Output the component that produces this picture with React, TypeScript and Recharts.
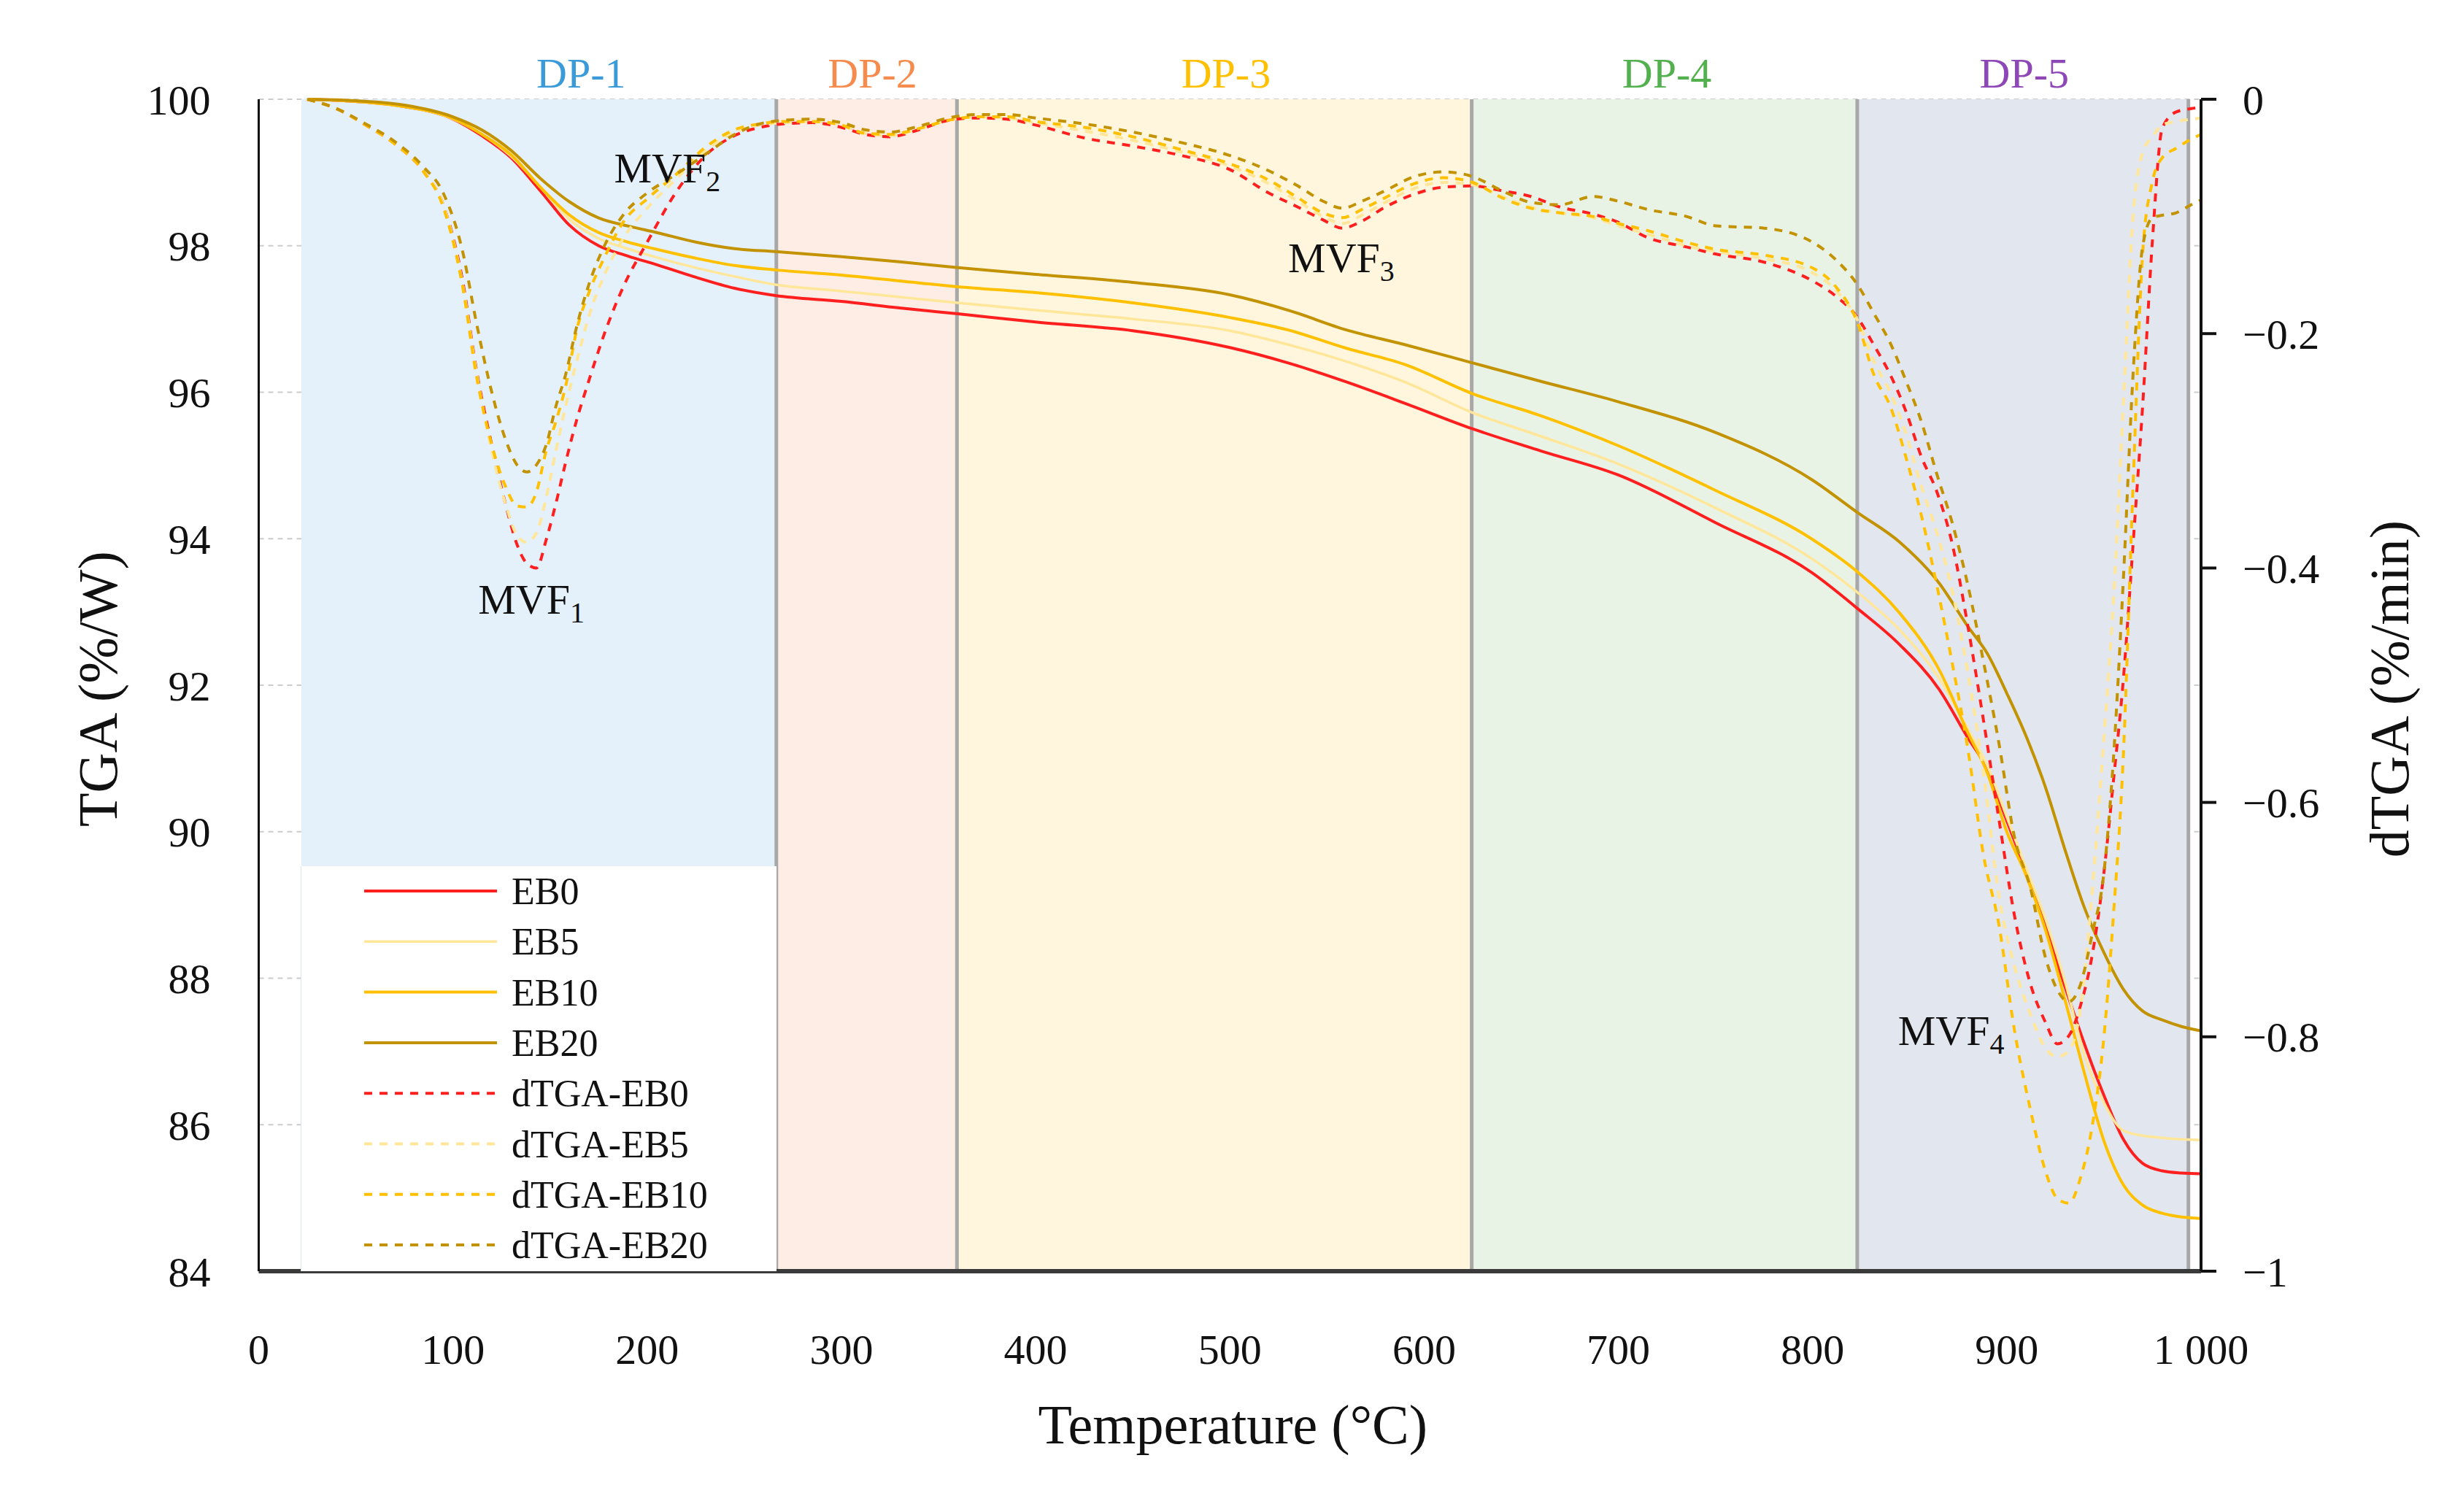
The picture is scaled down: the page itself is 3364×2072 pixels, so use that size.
import React from "react";
import {
  CartesianGrid,
  ComposedChart,
  Legend,
  Line,
  ReferenceArea,
  ReferenceDot,
  ReferenceLine,
  XAxis,
  YAxis,
} from "recharts";

const FONT = "'Liberation Serif', 'Times New Roman', serif";

// temperature grid for the TGA curves (°C)
const tgaTemps = [
  25, 50, 75, 100, 115, 130, 145, 160, 175, 190, 205, 225, 245, 266, 300, 330, 360, 400, 450, 500, 530, 560,
  590, 625, 660, 700, 750, 800, 823, 845, 865, 880, 890, 900, 910, 920, 930, 940, 950, 960, 970, 980, 990, 1000,
];

const tgaEB0 = [
  100, 99.97, 99.9, 99.73, 99.5, 99.2, 98.75, 98.28, 98.0, 97.86, 97.74, 97.57, 97.42, 97.32, 97.24, 97.15,
  97.07, 96.96, 96.84, 96.61, 96.4, 96.14, 95.85, 95.5, 95.2, 94.87, 94.22, 93.53, 93.05, 92.55, 91.95, 91.28,
  90.85, 90.15, 89.45, 88.7, 87.88, 87.1, 86.4, 85.8, 85.47, 85.37, 85.34, 85.33,
];
const tgaEB5 = [
  100, 99.97, 99.9, 99.73, 99.52, 99.22, 98.8, 98.36, 98.1, 97.96, 97.84, 97.7, 97.58, 97.47, 97.38, 97.3,
  97.22, 97.12, 97.0, 96.84, 96.65, 96.42, 96.14, 95.72, 95.4, 95.02, 94.42, 93.72, 93.27, 92.75, 92.1, 91.4,
  90.9, 90.2, 89.5, 88.8, 87.95, 86.95, 86.3, 85.92, 85.85, 85.82, 85.8, 85.79,
];
const tgaEB10 = [
  100, 99.97, 99.9, 99.74, 99.52, 99.24, 98.8, 98.42, 98.18, 98.05, 97.95, 97.83, 97.73, 97.67, 97.6, 97.52,
  97.44, 97.36, 97.22, 97.02, 96.85, 96.6, 96.38, 95.98, 95.68, 95.27, 94.66, 93.99, 93.55, 92.98, 92.22, 91.35,
  90.8, 90.0, 89.4, 88.65, 87.7, 86.7, 85.78, 85.18, 84.9, 84.79, 84.74, 84.72,
];
const tgaEB20 = [
  100, 99.98, 99.92, 99.76, 99.58, 99.3, 98.92, 98.6, 98.38, 98.27, 98.18, 98.05, 97.96, 97.92, 97.85, 97.78,
  97.7, 97.61, 97.5, 97.33, 97.12, 96.85, 96.65, 96.4, 96.15, 95.87, 95.45, 94.8, 94.36, 93.95, 93.4, 92.8,
  92.43, 91.89, 91.3, 90.6, 89.75, 88.96, 88.35, 87.85, 87.55, 87.43, 87.34, 87.28,
];

// temperature grid for the derivative curves (°C)
const dtgaTemps = [
  25, 40, 55, 70, 85, 95, 105, 112, 120, 127, 133, 138, 143, 148, 153, 158, 164, 170, 178, 188, 200, 215, 230,
  245, 258, 270, 285, 300, 312, 325, 340, 355, 370, 385, 400, 425, 450, 475, 500, 520, 535, 548, 558, 568, 580,
  595, 610, 625, 640, 655, 670, 687, 700, 715, 735, 750, 775, 800, 812, 823, 832, 840, 848, 856, 864, 872, 880,
  888, 896, 904, 912, 920, 926, 932, 938, 944, 950, 955, 960, 965, 970, 975, 980, 987, 995, 1000,
];

const dtgaEB0 = [
  0, -0.008, -0.022, -0.038, -0.062, -0.09, -0.155, -0.23, -0.295, -0.345, -0.38, -0.396, -0.4, -0.376, -0.345,
  -0.31, -0.272, -0.24, -0.2, -0.159, -0.122, -0.079, -0.048, -0.031, -0.024, -0.021, -0.02, -0.024, -0.03,
  -0.032, -0.026, -0.018, -0.016, -0.017, -0.022, -0.033, -0.04, -0.048, -0.06, -0.08, -0.092, -0.103, -0.11,
  -0.104, -0.092, -0.081, -0.075, -0.074, -0.078, -0.083, -0.092, -0.098, -0.105, -0.118, -0.126, -0.132,
  -0.139, -0.155, -0.168, -0.186, -0.211, -0.235, -0.266, -0.305, -0.335, -0.38, -0.45, -0.53, -0.615, -0.697,
  -0.754, -0.788, -0.806, -0.799, -0.773, -0.73, -0.66, -0.58, -0.495, -0.38, -0.26, -0.12, -0.025, -0.011,
  -0.008, -0.007,
];
const dtgaEB5 = [
  0, -0.008, -0.022, -0.038, -0.062, -0.09, -0.158, -0.232, -0.3, -0.345, -0.372, -0.378, -0.37, -0.34, -0.3,
  -0.262, -0.222, -0.185, -0.15, -0.118, -0.093, -0.068, -0.044, -0.028, -0.022, -0.02, -0.019, -0.022, -0.029,
  -0.031, -0.025, -0.018, -0.015, -0.016, -0.02, -0.027, -0.035, -0.045, -0.057, -0.072, -0.087, -0.1, -0.106,
  -0.099, -0.088, -0.076, -0.071, -0.073, -0.083, -0.092, -0.097, -0.101, -0.108, -0.115, -0.125, -0.13,
  -0.136, -0.148, -0.163, -0.188, -0.225, -0.25, -0.285, -0.33, -0.37, -0.42, -0.49, -0.575, -0.68, -0.74,
  -0.78, -0.81, -0.817, -0.812, -0.775, -0.675, -0.545, -0.425, -0.26, -0.1, -0.045, -0.032, -0.022, -0.019,
  -0.017, -0.016,
];
const dtgaEB10 = [
  0, -0.008, -0.022, -0.038, -0.062, -0.092, -0.16, -0.235, -0.295, -0.33, -0.347, -0.348, -0.335, -0.3, -0.275,
  -0.245, -0.195, -0.165, -0.135, -0.104, -0.085, -0.064, -0.041, -0.026, -0.021, -0.019, -0.019, -0.022,
  -0.029, -0.03, -0.025, -0.018, -0.015, -0.015, -0.019, -0.024, -0.032, -0.043, -0.055, -0.069, -0.084,
  -0.097, -0.101, -0.094, -0.084, -0.072, -0.067, -0.071, -0.084, -0.093, -0.097, -0.1, -0.106, -0.112, -0.122,
  -0.128, -0.133, -0.144, -0.16, -0.19, -0.237, -0.262, -0.305, -0.355, -0.415, -0.482, -0.555, -0.645, -0.705,
  -0.795, -0.861, -0.915, -0.938, -0.942, -0.92, -0.876, -0.8, -0.694, -0.56, -0.33, -0.13, -0.07, -0.05,
  -0.042, -0.034, -0.03,
];
const dtgaEB20 = [
  0, -0.008, -0.021, -0.036, -0.058, -0.08, -0.13, -0.19, -0.25, -0.29, -0.312, -0.318, -0.312, -0.295, -0.262,
  -0.235, -0.192, -0.158, -0.125, -0.098, -0.08, -0.064, -0.047, -0.03, -0.021, -0.018, -0.017, -0.02, -0.026,
  -0.028, -0.023, -0.016, -0.013, -0.013, -0.016, -0.021, -0.028, -0.037, -0.048, -0.061, -0.074, -0.087,
  -0.093, -0.087, -0.078, -0.066, -0.062, -0.066, -0.078, -0.088, -0.09, -0.083, -0.087, -0.094, -0.1, -0.108,
  -0.11, -0.122, -0.137, -0.158, -0.184, -0.208, -0.24, -0.275, -0.32, -0.362, -0.415, -0.48, -0.55, -0.63,
  -0.672, -0.733, -0.76, -0.77, -0.755, -0.712, -0.66, -0.56, -0.41, -0.235, -0.125, -0.101, -0.099, -0.097,
  -0.09, -0.086,
];

const tempTicks = [0, 100, 200, 300, 400, 500, 600, 700, 800, 900, 1000];
const tgaTicks = [84, 86, 88, 90, 92, 94, 96, 98, 100];
const dtgaTicks = [-1, -0.8, -0.6, -0.4, -0.2, 0];

const stageNames = ["DP-1", "DP-2", "DP-3", "DP-4", "DP-5"];
const stageBounds = [22, 266.5, 359.5, 624.5, 823, 993.5];
const stageFills = ["#e4f0fa", "#fdede4", "#fff6dd", "#e8f3e5", "#e2e7ef"];
const stageInk = ["#3b9ad8", "#f58b4c", "#ffc000", "#52b04f", "#8e47b6"];
const stageLabelAt = [166, 316, 498, 725, 909];

const peakSubs = ["1", "2", "3", "4"];
const peakAt = [
  { t: 113, y: 92.98 },
  { t: 183, y: 98.86 },
  { t: 530, y: 97.64 },
  { t: 844, y: 87.09 },
];

const DASH = "11 10";

const tgaSeries = [
  { name: "EB0", color: "#ff1f1f", values: tgaEB0, width: 4 },
  { name: "EB5", color: "#ffe699", values: tgaEB5, width: 3.5 },
  { name: "EB10", color: "#ffc000", values: tgaEB10, width: 4 },
  { name: "EB20", color: "#c29200", values: tgaEB20, width: 4 },
];
const dtgaSeries = [
  { name: "dTGA-EB0", color: "#ff1f1f", values: dtgaEB0, width: 4 },
  { name: "dTGA-EB5", color: "#ffe699", values: dtgaEB5, width: 4 },
  { name: "dTGA-EB10", color: "#ffc000", values: dtgaEB10, width: 4 },
  { name: "dTGA-EB20", color: "#c29200", values: dtgaEB20, width: 4 },
];

const zip = (temps: number[], values: number[]) => temps.map((t, i) => ({ t, v: values[i] }));

const fmtTemp = (v: number) => (v === 1000 ? "1 000" : String(v));
const fmtDtga = (v: number) => (v === 0 ? "0" : `\u2212${Math.abs(v).toFixed(v === -1 ? 0 : 1)}`);

function centerOf(viewBox: any) {
  return { cx: viewBox.x + (viewBox.width || 0) / 2, cy: viewBox.y + (viewBox.height || 0) / 2 };
}

function stageLabel(text: string, color: string) {
  return (props: any) => {
    const { cx, cy } = centerOf(props.viewBox);
    return (
      <text x={cx} y={cy - 16} textAnchor="middle" fontFamily={FONT} fontSize={58} fill={color}>
        {text}
      </text>
    );
  };
}

function peakLabel(sub: string) {
  return (props: any) => {
    const { cx, cy } = centerOf(props.viewBox);
    return (
      <text x={cx} y={cy} fontFamily={FONT} fontSize={58} fill="#111">
        MVF
        <tspan fontSize={40} dy={12}>
          {sub}
        </tspan>
      </text>
    );
  };
}

function LegendBox() {
  const rows = [
    ...tgaSeries.map((s) => ({ ...s, dash: undefined as string | undefined })),
    ...dtgaSeries.map((s) => ({ ...s, dash: DASH })),
  ];
  return (
    <div style={{ width: 652, height: 555, background: "#fff", borderLeft: "1px solid #dbe6f0", boxSizing: "border-box" }}>
      <svg width={651} height={555}>
        {rows.map((r, i) => {
          const y = 34 + i * 69.3;
          return (
            <g key={r.name}>
              <line x1={86} x2={268} y1={y} y2={y} stroke={r.color} strokeWidth={r.width} strokeDasharray={r.dash} />
              <text x={288} y={y + 18} fontFamily={FONT} fontSize={52} fill="#111">
                {r.name}
              </text>
            </g>
          );
        })}
      </svg>
    </div>
  );
}

export default function App() {
  return (
    <div style={{ width: 3348, height: 2056, background: "#fff", fontFamily: FONT }}>
      <ComposedChart width={3348} height={2056} margin={{ top: 128, right: 0, bottom: 0, left: 0 }}>
        {stageNames.map((name, i) => (
          <ReferenceArea
            key={name}
            yAxisId="left"
            x1={stageBounds[i]}
            x2={stageBounds[i + 1]}
            y1={84}
            y2={100}
            fill={stageFills[i]}
            fillOpacity={1}
            stroke="none"
          />
        ))}
        <CartesianGrid yAxisId="left" stroke="#cccccc" strokeWidth={2} strokeDasharray="7 6" />
        {stageBounds.slice(1).map((b) => (
          <ReferenceLine key={b} yAxisId="left" x={b} stroke="#a8a8a8" strokeWidth={5} />
        ))}
        <XAxis
          type="number"
          dataKey="t"
          domain={[0, 1000]}
          ticks={tempTicks}
          interval={0}
          tickFormatter={fmtTemp}
          height={322}
          tickSize={0}
          tickMargin={86}
          axisLine={{ stroke: "#3a3a3a", strokeWidth: 6 }}
          tickLine={false}
          tick={{ fontSize: 58, fill: "#111", fontFamily: FONT }}
          label={(p: any) => {
            const vb = p.viewBox;
            return (
              <text
                x={vb.x + vb.width / 2 + 4}
                y={vb.y + 210}
                textAnchor="middle"
                dominantBaseline="central"
                fontFamily={FONT}
                fontSize={76}
                fill="#111"
              >
                Temperature (°C)
              </text>
            );
          }}
        />
        <YAxis
          yAxisId="left"
          orientation="left"
          domain={[84, 100]}
          ticks={tgaTicks}
          interval={0}
          width={346.5}
          tickSize={0}
          tickMargin={66}
          axisLine={{ stroke: "#111", strokeWidth: 3 }}
          tickLine={false}
          tick={{ fontSize: 58, fill: "#111", fontFamily: FONT }}
          label={(p: any) => {
            const vb = p.viewBox;
            const cx = vb.x + 126;
            const cy = vb.y + vb.height / 2 + 5;
            return (
              <text
                x={cx}
                y={cy}
                transform={`rotate(-90 ${cx} ${cy})`}
                textAnchor="middle"
                dominantBaseline="central"
                fontFamily={FONT}
                fontSize={76}
                fill="#111"
              >
                TGA (%/W)
              </text>
            );
          }}
        />
        <YAxis
          yAxisId="right"
          orientation="right"
          domain={[-1, 0]}
          ticks={dtgaTicks}
          interval={0}
          width={340}
          tickSize={21}
          tickMargin={36}
          tickFormatter={fmtDtga}
          axisLine={{ stroke: "#111", strokeWidth: 4 }}
          tickLine={{ stroke: "#111", strokeWidth: 4 }}
          tick={{ fontSize: 58, fill: "#111", fontFamily: FONT }}
          label={(p: any) => {
            const vb = p.viewBox;
            const cx = vb.x + 258;
            const cy = vb.y + vb.height / 2 + 5;
            return (
              <text
                x={cx}
                y={cy}
                transform={`rotate(-90 ${cx} ${cy})`}
                textAnchor="middle"
                dominantBaseline="central"
                fontFamily={FONT}
                fontSize={76}
                fill="#111"
              >
                dTGA (%/min)
              </text>
            );
          }}
        />
        {tgaSeries.map((s) => (
          <Line
            key={s.name}
            yAxisId="left"
            data={zip(tgaTemps, s.values)}
            dataKey="v"
            name={s.name}
            type="monotone"
            stroke={s.color}
            strokeWidth={s.width}
            dot={false}
            activeDot={false}
            isAnimationActive={false}
          />
        ))}
        {dtgaSeries.map((s) => (
          <Line
            key={s.name}
            yAxisId="right"
            data={zip(dtgaTemps, s.values)}
            dataKey="v"
            name={s.name}
            type="monotone"
            stroke={s.color}
            strokeWidth={s.width}
            strokeDasharray={DASH}
            dot={false}
            activeDot={false}
            isAnimationActive={false}
          />
        ))}
        {stageNames.map((name, i) => (
          <ReferenceDot
            key={`lbl-${name}`}
            yAxisId="left"
            x={stageLabelAt[i]}
            y={100}
            r={0.5}
            fill="none"
            stroke="none"
            label={stageLabel(name, stageInk[i])}
          />
        ))}
        {peakSubs.map((sub, i) => (
          <ReferenceDot
            key={`mvf-${sub}`}
            yAxisId="left"
            x={peakAt[i].t}
            y={peakAt[i].y}
            r={0.5}
            fill="none"
            stroke="none"
            label={peakLabel(sub)}
          />
        ))}
        <Legend
          layout="vertical"
          align="center"
          verticalAlign="middle"
          wrapperStyle={{ position: "absolute", left: 404, top: 1179, width: 652, height: 555 }}
          content={() => <LegendBox />}
        />
      </ComposedChart>
    </div>
  );
}
